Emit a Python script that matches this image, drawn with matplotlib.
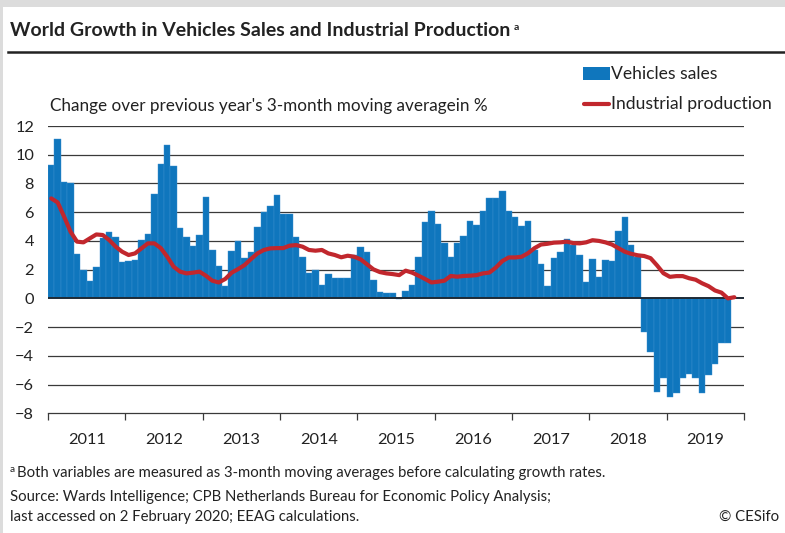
import numpy as np
import matplotlib
matplotlib.use("Agg")
import matplotlib.pyplot as plt
from matplotlib.patches import Rectangle
from matplotlib.lines import Line2D

# ------------------------------------
# DATA (monthly, Jan 2011 onwards)
# ------------------------------------
years = ["2011", "2012", "2013", "2014", "2015", "2016", "2017", "2018", "2019"]

vehicle_sales = [
    9.3, 11.1, 8.1, 8.0, 3.1, 2.0, 1.2, 2.2, 4.2, 4.6, 4.3, 2.5,          # 2011
    2.6, 2.7, 4.06, 4.48, 7.27, 9.33, 10.7, 9.24, 4.87, 4.25, 3.67, 4.41,  # 2012
    7.08, 3.37, 2.27, 0.88, 3.3, 4.0, 2.79, 3.25, 4.94, 5.99, 6.43, 7.2,   # 2013
    5.9, 5.85, 4.3, 2.9, 1.8, 2.0, 0.9, 1.7, 1.4, 1.4, 1.4, 3.0,           # 2014
    3.6, 3.25, 1.28, 0.46, 0.35, 0.35, -0.07, 0.51, 0.93, 2.9, 5.29, 6.06, # 2015
    5.18, 3.83, 2.86, 3.88, 4.34, 5.39, 5.1, 6.08, 7.0, 7.0, 7.5, 6.08,    # 2016
    5.69, 5.04, 5.39, 3.4, 2.37, 0.88, 2.79, 3.2, 4.13, 3.7, 3.0, 1.16,    # 2017
    2.72, 1.51, 2.7, 2.6, 4.69, 5.69, 3.71, 2.9, -2.32, -3.7, -6.55, -5.57,  # 2018
    -6.9, -6.62, -5.57, -5.27, -5.57, -6.62, -5.34, -4.57, -3.09, -3.13,   # 2019
]

industrial_production = [
    6.96, 6.68, 5.69, 4.64, 3.95, 3.9, 4.18, 4.45, 4.41, 4.06, 3.6, 3.25,
    3.02, 3.13, 3.48, 3.83, 3.83, 3.5, 2.9, 2.2, 1.86, 1.74, 1.79, 1.86,
    1.58, 1.23, 1.11, 1.35, 1.79, 2.04, 2.32, 2.74, 3.13, 3.37, 3.48, 3.5,
    3.5, 3.67, 3.71, 3.6, 3.37, 3.32, 3.37, 3.13, 3.02, 2.86, 2.97, 2.9,
    2.72, 2.37, 2.02, 1.83, 1.74, 1.69, 1.62, 1.93, 1.79, 1.58, 1.35, 1.11,
    1.16, 1.23, 1.56, 1.51, 1.56, 1.58, 1.62, 1.74, 1.8, 2.15, 2.6, 2.85,
    2.85, 2.9, 3.15, 3.5, 3.75, 3.8, 3.88, 3.9, 3.95, 3.85, 3.83, 3.9,
    4.05, 4.0, 3.9, 3.75, 3.5, 3.25, 3.1, 3.0, 2.95, 2.8, 2.3, 1.75,
    1.5, 1.55, 1.55, 1.4, 1.3, 1.05, 0.85, 0.55, 0.4, 0.0, 0.08,
]

y_ticks = [12, 10, 8, 6, 4, 2, 0, -2, -4, -6, -8]

# ------------------------------------
# STYLE
# ------------------------------------
W, H = 785, 533
BLUE = "#0f76bd"
RED = "#c1272d"
TEXT = "#222222"
FONT = "Lato"

plt.rcParams["font.family"] = [FONT, "DejaVu Sans"]


def fx(px):
    return px / W


def fy(py):
    return 1 - py / H


def main():
    fig = plt.figure(figsize=(W / 100, H / 100), dpi=100)

    # grey frame of the screenshot
    fig.add_artist(Rectangle((0, fy(7)), 1, 7 / H, transform=fig.transFigure,
                             color="#dcdcdc", lw=0))
    fig.add_artist(Rectangle((0, 0), 3 / W, 1, transform=fig.transFigure,
                             color="#dcdcdc", lw=0))

    ax = fig.add_axes([fx(48), fy(413.3), fx(744) - fx(48), fy(126) - fy(413.3)])

    n_months = len(years) * 12
    x_bar = np.arange(len(vehicle_sales)) + 0.5
    x_line = np.arange(len(industrial_production)) + 0.5

    for v in y_ticks:
        if v in (0, -8):
            continue
        ax.axhline(v, color="#3a3a3a", lw=0.9, zorder=0)

    ax.bar(x_bar, vehicle_sales, width=1.0, color=BLUE, edgecolor="#3b8fd0",
           linewidth=0.3, zorder=2)
    ax.axhline(0, color="#1e2a36", lw=1.4, zorder=3)
    ax.plot(x_line, industrial_production, color=RED, lw=3.0,
            solid_capstyle="round", zorder=4)

    ax.set_xlim(0, n_months)
    ax.set_ylim(-8, 12)

    for s in ["top", "right", "left"]:
        ax.spines[s].set_visible(False)
    ax.spines["bottom"].set_color("#3a3a3a")
    ax.spines["bottom"].set_linewidth(0.9)

    ax.set_xticks(np.arange(0, n_months + 1, 12))
    ax.set_xticklabels([])
    ax.set_xticks(np.arange(6, n_months, 12), minor=True)
    ax.set_xticklabels(years, minor=True)
    ax.tick_params(axis="x", which="major", length=5, width=0.9,
                   color="#3a3a3a", direction="out")
    ax.tick_params(axis="x", which="minor", length=0, pad=14,
                   labelsize=11.8, labelcolor=TEXT)

    ax.set_yticks(y_ticks)
    ax.set_yticklabels([str(v).replace("-", "\u2212") for v in y_ticks])
    ax.tick_params(axis="y", length=0, pad=10, labelsize=11.8,
                   labelcolor=TEXT)

    # title + rule
    fig.text(fx(10), fy(31), "World Growth in Vehicles Sales and Industrial Production",
             fontsize=14.0, fontweight="bold", color=TEXT, va="center")
    fig.text(fx(514), fy(27), "a", fontsize=7.5, fontweight="bold",
             color=TEXT, va="center")
    fig.add_artist(Line2D([fx(8), 1], [fy(52), fy(52)], transform=fig.transFigure,
                          color=TEXT, lw=1.8))

    fig.text(fx(50), fy(106), "Change over previous year's 3-month moving averagein %",
             fontsize=12.3, color=TEXT, va="center")

    # legend
    fig.add_artist(Rectangle((fx(583), fy(80)), 27 / W, 13 / H,
                             transform=fig.transFigure, color=BLUE, lw=0))
    fig.text(fx(611), fy(74), "Vehicles sales", fontsize=12.6,
             color=TEXT, va="center")
    fig.add_artist(Line2D([fx(584), fx(609)], [fy(104), fy(104)],
                          transform=fig.transFigure, color=RED, lw=3.0,
                          solid_capstyle="round"))
    fig.text(fx(611), fy(104), "Industrial production", fontsize=12.6,
             color=TEXT, va="center")

    # notes
    fig.text(fx(10), fy(470), "a", fontsize=7.2, color=TEXT, va="center")
    fig.text(fx(17), fy(473), "Both variables are measured as 3-month moving averages "
             "before calculating growth rates.", fontsize=10.75, color=TEXT,
             va="center")
    fig.text(fx(10), fy(497), "Source: Wards Intelligence; CPB Netherlands Bureau "
             "for Economic Policy Analysis;", fontsize=10.75, color=TEXT,
             va="center")
    fig.text(fx(10), fy(517), "last accessed on 2 February 2020; EEAG calculations.",
             fontsize=10.75, color=TEXT, va="center")
    fig.text(fx(779), fy(517), "\u00a9 CESifo", fontsize=10.75, color=TEXT,
             va="center", ha="right")

    fig.savefig("out.png", dpi=100)
    plt.close(fig)


if __name__ == "__main__":
    main()
